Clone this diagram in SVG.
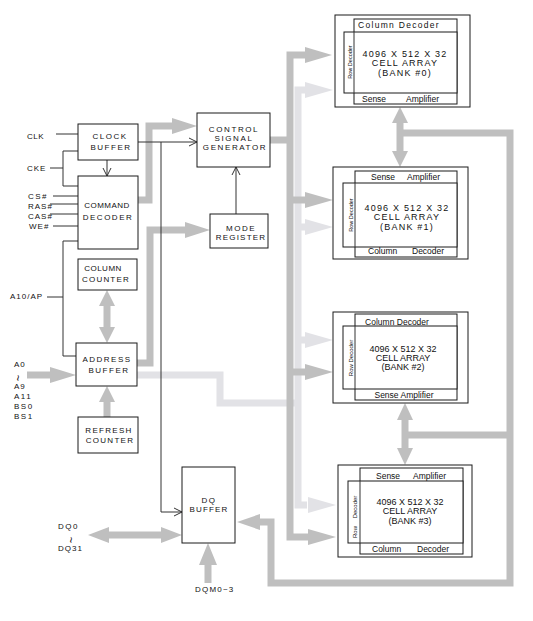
<svg xmlns="http://www.w3.org/2000/svg" width="533" height="621" viewBox="0 0 533 621">
<style>
text{font-family:"Liberation Sans",Arial,sans-serif;fill:#111}
.b{font-size:8px;text-anchor:middle}
.l{font-size:8px}
.tl{font-size:11px;text-anchor:middle}
.box{fill:#fff;stroke:#1a1a1a;stroke-width:1}
.ln{fill:none;stroke:#333;stroke-width:1}
.dk{fill:none;stroke:#bfbfbf;stroke-width:7}
.lt{fill:none;stroke:#e2e2e6;stroke-width:7}
.dkf{fill:#bfbfbf}
.ltf{fill:#e2e2e6}
.bk{font-size:9px;text-anchor:middle}
.sm{font-size:8.5px}
.rd{font-size:5.5px;text-anchor:middle}
</style>
<rect width="533" height="621" fill="#fff"/>
<g id="connectors">
  <path class="lt" d="M137,375 H220 V403 H298"/>
  <path class="lt" d="M307,90 H298 V505 H307 M298,227 H307 M298,340 H307"/>
  <polygon class="ltf" points="305,82 333,90 305,98"/>
  <polygon class="ltf" points="305,219 333,227 305,235"/>
  <polygon class="ltf" points="305,332 333,340 305,348"/>
  <polygon class="ltf" points="308,497 336,505 308,513"/>
  <path class="dk" d="M307,55 H290 V537 H308 M270,140 H290 M290,200 H307 M290,372 H307"/>
  <polygon class="dkf" points="305,47 332,55 305,63"/>
  <polygon class="dkf" points="305,192 333,200 305,208"/>
  <polygon class="dkf" points="305,364 333,372 305,380"/>
  <polygon class="dkf" points="308,529 336,537 308,545"/>
  <path class="dk" d="M138,200 H149 V126 H175"/>
  <polygon class="dkf" points="172,118 197,126 172,134"/>
  <path class="dk" d="M137,363 H150 V230 H187"/>
  <polygon class="dkf" points="185,222 210,230 185,238"/>
  <path class="dk" d="M27,375 H52"/>
  <polygon class="dkf" points="50,367 76,375 50,383"/>
  <path class="dk" d="M107,304 V329"/>
  <polygon class="dkf" points="99,306 107,290 115,306"/>
  <polygon class="dkf" points="99,327 107,343 115,327"/>
  <path class="dk" d="M107,417 V400"/>
  <polygon class="dkf" points="99,402 107,386 115,402"/>
  <path class="dk" d="M106,535 H164"/>
  <polygon class="dkf" points="88,535 109,527 109,543"/>
  <polygon class="dkf" points="182,535 161,527 161,543"/>
  <path class="dk" d="M208,583 V562"/>
  <polygon class="dkf" points="199,565 208,543 217,565"/>
  <path class="dk" d="M400,121 V153 M400,133 H510 V583 H271 V522 H260 M405,419 V449 M405,435 H510"/>
  <polygon class="dkf" points="392,123 400,107 408,123"/>
  <polygon class="dkf" points="392,151 400,167 408,151"/>
  <polygon class="dkf" points="397,420 405,403 413,420"/>
  <polygon class="dkf" points="397,448 405,465 413,448"/>
  <polygon class="dkf" points="260,514 237,522 260,530"/>
  <path class="ln" d="M56,134 H78 M50,168 H63 M63,151 V186 M63,151 H78 M63,186 H78 M53,196 H78 M50,204 H78 M50,214 H78 M53,226 H78 M63,241 V356 H76 M63,241 H78 M47,297 H63"/>
  <path class="ln" d="M138,142 H197 M161,142 V512 H182 M107,160 V176 M236,214 V167"/>
  <path class="ln" d="M189,138 L197,142 L189,146 M103,168 L107,176 L111,168 M232,175 L236,167 L240,175 M174,508 L182,512 L174,516"/>
</g>
<g id="clock-buffer">
  <rect class="box" x="78" y="124" width="60" height="36"/>
  <text class="b" x="110" y="139" letter-spacing="1.5">CLOCK</text>
  <text class="b" x="111" y="150" letter-spacing="1.5">BUFFER</text>
</g>
<g id="command-decoder">
  <rect class="box" x="78" y="176" width="60" height="73"/>
  <text class="b" x="107" y="208" letter-spacing="0.5">COMMAND</text>
  <text class="b" x="108" y="220" letter-spacing="1.5">DECODER</text>
</g>
<g id="column-counter">
  <rect class="box" x="78" y="259" width="59" height="31"/>
  <text class="b" x="103" y="271" letter-spacing="0.5">COLUMN</text>
  <text class="b" x="106" y="282" letter-spacing="1.2">COUNTER</text>
</g>
<g id="address-buffer">
  <rect class="box" x="76" y="343" width="61" height="43"/>
  <text class="b" x="107" y="362" letter-spacing="1.5">ADDRESS</text>
  <text class="b" x="109" y="373" letter-spacing="1.5">BUFFER</text>
</g>
<g id="refresh-counter">
  <rect class="box" x="78" y="417" width="60" height="36"/>
  <text class="b" x="109" y="433" letter-spacing="1.3">REFRESH</text>
  <text class="b" x="110" y="443" letter-spacing="1.3">COUNTER</text>
</g>
<g id="control-signal-generator">
  <rect class="box" x="197" y="113" width="73" height="54"/>
  <text class="b" x="234" y="132" letter-spacing="1.6">CONTROL</text>
  <text class="b" x="234" y="141" letter-spacing="1.6">SIGNAL</text>
  <text class="b" x="235" y="150" letter-spacing="1.6">GENERATOR</text>
</g>
<g id="mode-register">
  <rect class="box" x="210" y="214" width="58" height="34"/>
  <text class="b" x="241" y="231" letter-spacing="1.5">MODE</text>
  <text class="b" x="241" y="240" letter-spacing="1.2">REGISTER</text>
</g>
<g id="dq-buffer">
  <rect class="box" x="182" y="467" width="53" height="76"/>
  <text class="b" x="209" y="503" letter-spacing="1.5">DQ</text>
  <text class="b" x="209" y="512" letter-spacing="1.2">BUFFER</text>
</g>
<g id="labels">
  <text class="l" x="27" y="139" letter-spacing="0.5">CLK</text>
  <text class="l" x="27" y="171" letter-spacing="1">CKE</text>
  <text class="l" x="28" y="199" letter-spacing="1.5">CS#</text>
  <text class="l" x="28" y="209" letter-spacing="1">RAS#</text>
  <text class="l" x="28" y="219" letter-spacing="1">CAS#</text>
  <text class="l" x="29" y="229" letter-spacing="1">WE#</text>
  <text class="l" x="10" y="299" letter-spacing="1">A10/AP</text>
  <text class="l" x="14" y="367" letter-spacing="1">A0</text>
  <text class="tl" transform="translate(14,378) rotate(90)">~</text>
  <text class="l" x="14" y="389" letter-spacing="1">A9</text>
  <text class="l" x="14" y="399" letter-spacing="1.5">A11</text>
  <text class="l" x="14" y="409" letter-spacing="1.5">BS0</text>
  <text class="l" x="14" y="419" letter-spacing="1.5">BS1</text>
  <text class="l" x="58" y="529" letter-spacing="1.5">DQ0</text>
  <text class="tl" transform="translate(67,540) rotate(90)">~</text>
  <text class="l" x="58" y="551" letter-spacing="1">DQ31</text>
  <text class="l" x="195" y="592" letter-spacing="1.2">DQM0~3</text>
</g>
<g id="bank0">
  <rect class="box" x="335" y="15" width="135" height="92"/>
  <rect class="box" x="354" y="19" width="103" height="85"/>
  <rect class="box" x="344" y="32" width="113" height="61"/>
  <line class="ln" x1="354" y1="32" x2="354" y2="93"/>
  <text class="sm" x="358" y="28" letter-spacing="1.3">Column Decoder</text>
  <text class="bk" x="405" y="57" letter-spacing="1.2">4096 X 512 X 32</text>
  <text class="bk" x="405" y="66" letter-spacing="1.2">CELL ARRAY</text>
  <text class="bk" x="405" y="76" letter-spacing="1.2">(BANK #0)</text>
  <text class="sm" x="362" y="102">Sense</text>
  <text class="sm" x="406" y="102">Amplifier</text>
  <text class="rd" transform="translate(352,62) rotate(-90)">Row Decoder</text>
</g>
<g id="bank1">
  <rect class="box" x="333" y="167" width="135" height="92"/>
  <rect class="box" x="355" y="171" width="102" height="86"/>
  <rect class="box" x="343" y="183" width="114" height="64"/>
  <line class="ln" x1="355" y1="183" x2="355" y2="247"/>
  <text class="sm" x="371" y="180">Sense</text>
  <text class="sm" x="407" y="180">Amplifier</text>
  <text class="bk" x="407" y="211" letter-spacing="1.2">4096 X 512 X 32</text>
  <text class="bk" x="407" y="220" letter-spacing="1.2">CELL ARRAY</text>
  <text class="bk" x="407" y="230" letter-spacing="1.2">(BANK #1)</text>
  <text class="sm" x="368" y="254">Column</text>
  <text class="sm" x="412" y="254">Decoder</text>
  <text class="rd" transform="translate(353,215) rotate(-90)">Row Decoder</text>
</g>
<g id="bank2">
  <rect class="box" x="333" y="312" width="135" height="91"/>
  <rect class="box" x="355" y="314" width="102" height="86"/>
  <rect class="box" x="343" y="326" width="114" height="63"/>
  <line class="ln" x1="355" y1="326" x2="355" y2="389"/>
  <text class="sm" x="397" y="325" text-anchor="middle">Column Decoder</text>
  <text class="bk" x="403" y="352">4096 X 512 X 32</text>
  <text class="bk" x="403" y="361">CELL ARRAY</text>
  <text class="bk" x="403" y="370">(BANK #2)</text>
  <text class="sm" x="404" y="398" text-anchor="middle">Sense Amplifier</text>
  <text class="rd" style="font-size:6px" transform="translate(353,358) rotate(-90)">Row Decoder</text>
</g>
<g id="bank3">
  <rect class="box" x="338" y="465" width="134" height="92"/>
  <rect class="box" x="360" y="468" width="103" height="86"/>
  <rect class="box" x="348" y="481" width="115" height="62"/>
  <line class="ln" x1="360" y1="481" x2="360" y2="543"/>
  <text class="sm" x="376" y="479">Sense</text>
  <text class="sm" x="413" y="479">Amplifier</text>
  <text class="bk" x="410" y="505">4096 X 512 X 32</text>
  <text class="bk" x="410" y="514">CELL ARRAY</text>
  <text class="bk" x="410" y="524">(BANK #3)</text>
  <text class="sm" x="372" y="552">Column</text>
  <text class="sm" x="417" y="552">Decoder</text>
  <text class="rd" style="font-size:6px" transform="translate(357,532) rotate(-90)">Row</text>
  <text class="rd" style="font-size:6px" transform="translate(357,507) rotate(-90)">Decoder</text>
</g>
</svg>
